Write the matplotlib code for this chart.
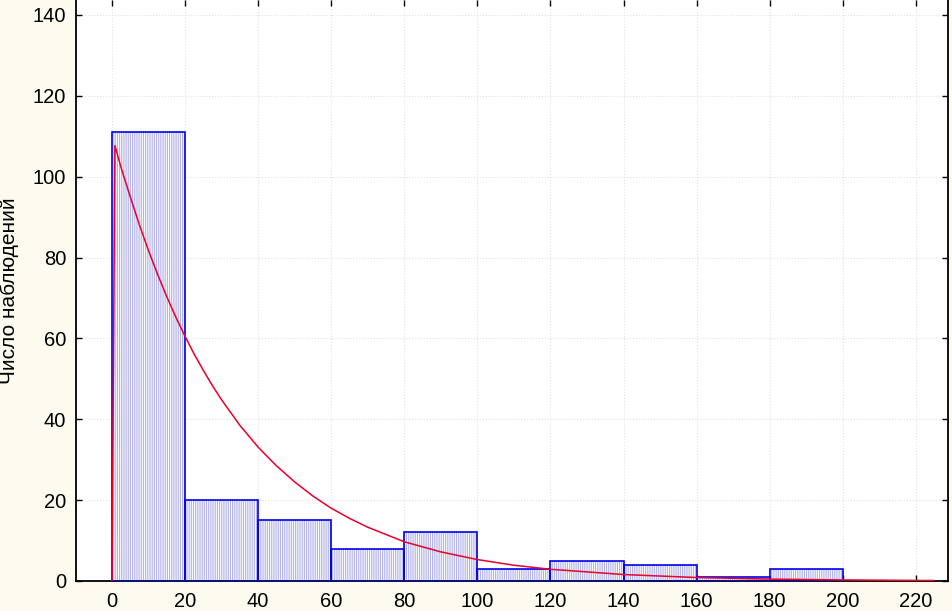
import numpy as np
import matplotlib
matplotlib.use('Agg')
import matplotlib.pyplot as plt

# histogram bins (left edges, width 20) and counts
bin_edges = [0, 20, 40, 60, 80, 100, 120, 140, 160, 180, 200]
counts = [111, 20, 15, 8, 12, 3, 5, 4, 1, 3]

# fitted exponential curve
curve_x = [0, 0.8, 2.5, 5, 7.5, 10, 12.5, 15, 17.5, 20, 22.5, 25, 27.5, 30, 35,
           40, 45, 50, 55, 60, 65, 70, 80, 90, 100, 110, 120, 140, 160, 180,
           200, 225]
curve_y = [0, 107.7, 102.2, 95.0, 88.1, 81.7, 75.8, 70.3, 65.2, 60.5, 56.1, 52.1,
           48.3, 44.8, 38.5, 33.1, 28.5, 24.5, 21.0, 18.0, 15.5, 13.3, 9.7, 7.2,
           5.3, 3.9, 2.9, 1.6, 0.86, 0.47, 0.26, 0.12]

x_ticks = list(range(0, 221, 20))
y_ticks = list(range(0, 141, 20))
y_label = 'Число наблюдений'

plt.rcParams['font.family'] = ['Liberation Sans', 'DejaVu Sans']
plt.rcParams['hatch.linewidth'] = 0.6

fig = plt.figure(figsize=(9.53, 6.11), dpi=100)
fig.patch.set_facecolor('#fdfaf0')
ax = fig.add_axes([76 / 953, 30 / 611, (948 - 76) / 953, 581 / 611])
ax.set_facecolor('white')

lefts = bin_edges[:-1]
widths = np.diff(bin_edges)
# hatch fill
ax.bar(lefts, counts, width=widths, align='edge', color='white',
       edgecolor='#a4a4e6', hatch='|' * 9, linewidth=0, zorder=2)
# bar outlines
ax.bar(lefts, counts, width=widths, align='edge', fill=False,
       edgecolor='#0000ee', linewidth=1.2, zorder=3)

ax.plot(curve_x, curve_y, color='#e8002a', linewidth=1.1, zorder=4)

ax.set_xlim(-9.85, 228.8)
ax.set_ylim(0, 143.7)
ax.set_xticks(x_ticks)
ax.set_yticks(y_ticks)
ax.tick_params(direction='in', length=4, width=1, labelsize=14.5,
               top=True, right=True, colors='black')
ax.tick_params(axis='x', pad=8)
ax.tick_params(axis='y', pad=7)
ax.grid(True, color='#e2e2e2', linestyle=':', linewidth=0.8, zorder=0)
ax.set_axisbelow(True)
for side in ['left', 'bottom', 'right']:
    ax.spines[side].set_linewidth(1.3)
ax.spines['top'].set_visible(False)

ax.set_ylabel(y_label, fontsize=15)
ax.yaxis.set_label_coords((-76 + 19) / 872, 0.5)

fig.savefig('out.png', dpi=100, facecolor=fig.get_facecolor())
